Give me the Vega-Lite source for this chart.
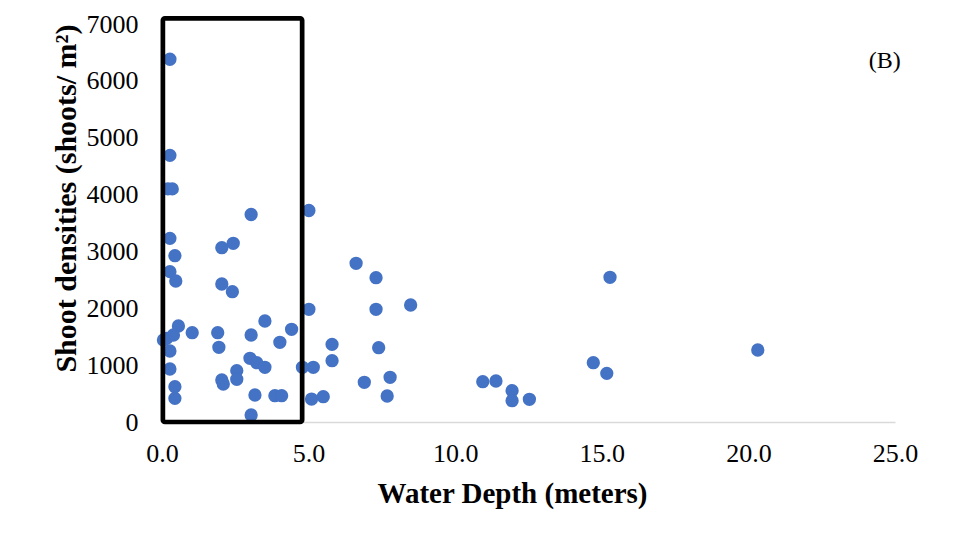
{
  "$schema": "https://vega.github.io/schema/vega-lite/v6.json",
  "width": 733,
  "height": 398,
  "autosize": {"type": "none"},
  "padding": {"left": 162, "top": 24, "right": 61, "bottom": 123},
  "background": "white",
  "config": {
    "view": {"stroke": null},
    "font": "Liberation Serif"
  },
  "datasets": {
    "points": [
      {"depth": 0.27, "density": 6380},
      {"depth": 0.27, "density": 4690},
      {"depth": 0.2, "density": 4100},
      {"depth": 0.35, "density": 4100},
      {"depth": 3.04, "density": 3650},
      {"depth": 5.01, "density": 3720},
      {"depth": 0.27, "density": 3230},
      {"depth": 2.04, "density": 3066},
      {"depth": 2.43, "density": 3143},
      {"depth": 0.44, "density": 2925},
      {"depth": 0.27, "density": 2644},
      {"depth": 0.47, "density": 2480},
      {"depth": 2.04, "density": 2427},
      {"depth": 2.4, "density": 2292},
      {"depth": 5.01, "density": 1982},
      {"depth": 0.56, "density": 1688},
      {"depth": 1.03, "density": 1571},
      {"depth": 1.9, "density": 1571},
      {"depth": 3.51, "density": 1776},
      {"depth": 4.42, "density": 1630},
      {"depth": 3.04, "density": 1530},
      {"depth": 0.16, "density": 1472},
      {"depth": 0.39, "density": 1530},
      {"depth": 0.05, "density": 1442},
      {"depth": 0.27, "density": 1249},
      {"depth": 1.94, "density": 1314},
      {"depth": 4.02, "density": 1402},
      {"depth": 3.0, "density": 1120},
      {"depth": 3.23, "density": 1043},
      {"depth": 3.51, "density": 962},
      {"depth": 0.27, "density": 932},
      {"depth": 2.55, "density": 903},
      {"depth": 2.55, "density": 751},
      {"depth": 2.04, "density": 739},
      {"depth": 2.09, "density": 668},
      {"depth": 4.79, "density": 962},
      {"depth": 5.16, "density": 962},
      {"depth": 0.44, "density": 621},
      {"depth": 0.44, "density": 416},
      {"depth": 3.17, "density": 475},
      {"depth": 3.85, "density": 463},
      {"depth": 4.08, "density": 463},
      {"depth": 3.04, "density": 123},
      {"depth": 5.1, "density": 404},
      {"depth": 6.62, "density": 2791},
      {"depth": 7.3, "density": 2538},
      {"depth": 7.3, "density": 1982},
      {"depth": 8.48, "density": 2058},
      {"depth": 5.8, "density": 1366},
      {"depth": 7.39, "density": 1307},
      {"depth": 5.8, "density": 1078},
      {"depth": 6.9, "density": 698},
      {"depth": 7.78, "density": 786},
      {"depth": 5.5, "density": 445},
      {"depth": 7.68, "density": 457},
      {"depth": 10.94, "density": 709},
      {"depth": 11.39, "density": 721},
      {"depth": 11.94, "density": 551},
      {"depth": 11.94, "density": 375},
      {"depth": 12.53, "density": 399},
      {"depth": 15.28, "density": 2545},
      {"depth": 20.32, "density": 1266},
      {"depth": 14.71, "density": 1043},
      {"depth": 15.17, "density": 856}
    ],
    "box": [
      {"x1": 0.03, "x2": 4.78, "y1": 0, "y2": 7100}
    ],
    "label": [
      {"depth": 24.65, "density": 6350, "text": "(B)"}
    ]
  },
  "layer": [
    {
      "data": {"name": "points"},
      "mark": {"type": "point", "filled": true, "shape": "circle", "size": 177, "color": "#4472C4", "opacity": 1},
      "encoding": {
        "x": {
          "field": "depth", "type": "quantitative",
          "scale": {"domain": [0, 25], "nice": false, "zero": false},
          "axis": {
            "title": "Water Depth (meters)",
            "values": [0, 5, 10, 15, 20, 25],
            "format": ".1f",
            "grid": false,
            "ticks": false,
            "domainColor": "#d9d9d9",
            "domainWidth": 1.5,
            "labelFont": "Liberation Serif",
            "labelFontSize": 26,
            "labelColor": "#000000",
            "labelPadding": 18,
            "labelFlush": false,
            "titleFont": "Liberation Serif",
            "titleFontSize": 29,
            "titleFontWeight": "bold",
            "titleColor": "#000000",
            "titlePadding": 13,
            "titleX": 350
          }
        },
        "y": {
          "field": "density", "type": "quantitative",
          "scale": {"domain": [0, 7000], "nice": false},
          "axis": {
            "title": "Shoot densities (shoots/ m²)",
            "values": [0, 1000, 2000, 3000, 4000, 5000, 6000, 7000],
            "format": "d",
            "grid": false,
            "ticks": false,
            "domain": false,
            "labelFont": "Liberation Serif",
            "labelFontSize": 26,
            "labelColor": "#000000",
            "labelPadding": 24,
            "labelFlush": false,
            "titleFont": "Liberation Serif",
            "titleFontSize": 30,
            "titleFontWeight": "bold",
            "titleColor": "#000000",
            "titleX": -81,
            "titleY": 174
          }
        }
      }
    },
    {
      "data": {"name": "box"},
      "mark": {"type": "rect", "fill": null, "fillOpacity": 0, "stroke": "#000000", "strokeWidth": 4.7, "cornerRadius": 2, "clip": false},
      "encoding": {
        "x": {"field": "x1", "type": "quantitative"},
        "x2": {"field": "x2"},
        "y": {"field": "y1", "type": "quantitative"},
        "y2": {"field": "y2"}
      }
    },
    {
      "data": {"name": "label"},
      "mark": {"type": "text", "font": "Liberation Serif", "fontSize": 24, "color": "#000000", "align": "center", "baseline": "middle"},
      "encoding": {
        "x": {"field": "depth", "type": "quantitative"},
        "y": {"field": "density", "type": "quantitative"},
        "text": {"field": "text"}
      }
    }
  ]
}
